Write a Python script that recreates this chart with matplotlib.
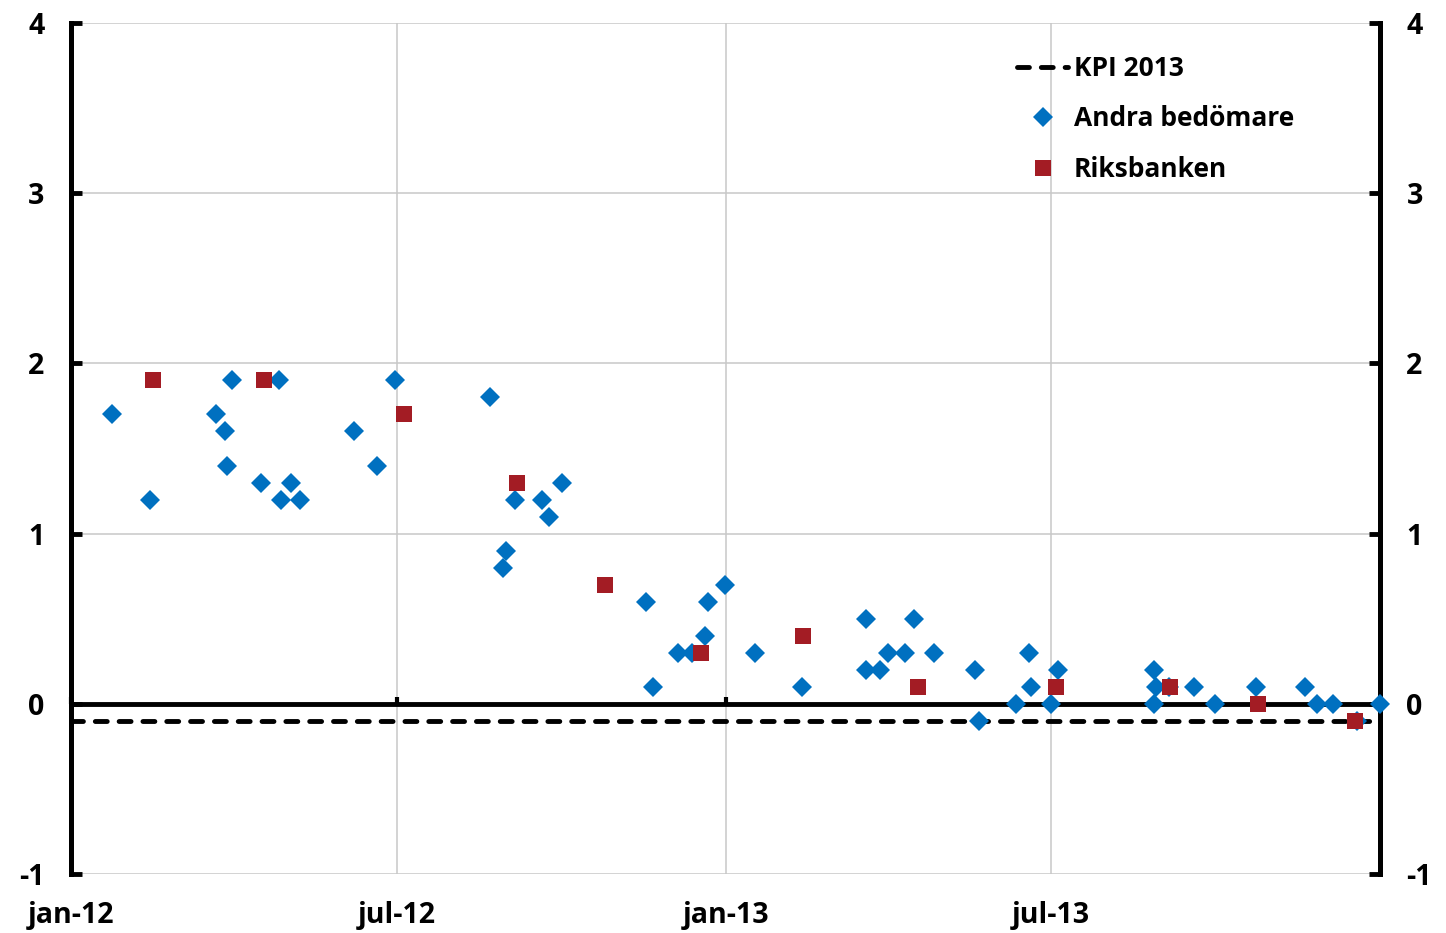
import numpy as np
import pandas as pd
import matplotlib
matplotlib.use("Agg")
from matplotlib import pyplot as plt

plt.rcParams['font.family'] = ['Open Sans', 'DejaVu Sans']
plt.rcParams['font.weight'] = 'bold'

# Andra bedömare
andra_dates = ["2012-01-24", "2012-02-14", "2012-03-22", "2012-03-27", "2012-03-28",
               "2012-03-31", "2012-04-16", "2012-04-26", "2012-04-27", "2012-05-03",
               "2012-05-08", "2012-06-07", "2012-06-20", "2012-06-30", "2012-08-22",
               "2012-08-29", "2012-08-31", "2012-09-05", "2012-09-20", "2012-09-24",
               "2012-10-01", "2012-11-17", "2012-11-21", "2012-12-05", "2012-12-13",
               "2012-12-20", "2012-12-22", "2012-12-31", "2013-01-17", "2013-02-12",
               "2013-03-20", "2013-03-20", "2013-03-28", "2013-04-01", "2013-04-11",
               "2013-04-16", "2013-04-27", "2013-05-20", "2013-05-22", "2013-06-12",
               "2013-06-19", "2013-06-20", "2013-07-01", "2013-07-05", "2013-08-28",
               "2013-08-28", "2013-08-29", "2013-09-05", "2013-09-19", "2013-10-01",
               "2013-10-24", "2013-11-20", "2013-11-27", "2013-12-06", "2013-12-19",
               "2014-01-01"]
andra_values = [1.7, 1.2, 1.7, 1.6, 1.4,
                1.9, 1.3, 1.9, 1.2, 1.3,
                1.2, 1.6, 1.4, 1.9, 1.8,
                0.8, 0.9, 1.2, 1.2, 1.1,
                1.3, 0.6, 0.1, 0.3, 0.3,
                0.4, 0.6, 0.7, 0.3, 0.1,
                0.5, 0.2, 0.2, 0.3, 0.3,
                0.5, 0.3, 0.2, -0.1, 0.0,
                0.3, 0.1, 0.0, 0.2, 0.2,
                0.0, 0.1, 0.1, 0.1, 0.0,
                0.1, 0.1, 0.0, 0.0, -0.1,
                0.0]

# Riksbanken
riks_dates = ["2012-02-16", "2012-04-18", "2012-07-05", "2012-09-06", "2012-10-25",
              "2012-12-18", "2013-02-13", "2013-04-18", "2013-07-04", "2013-09-06",
              "2013-10-25", "2013-12-18"]
riks_values = [1.9, 1.9, 1.7, 1.3, 0.7,
               0.3, 0.4, 0.1, 0.1, 0.1,
               0.0, -0.1]

kpi_2013 = -0.1

xtick_dates = ["2012-01-01", "2012-07-01", "2013-01-01", "2013-07-01"]
xtick_labels = ["jan-12", "jul-12", "jan-13", "jul-13"]
yticks = [-1, 0, 1, 2, 3, 4]

blue = '#0070c0'
red = '#a31c24'

fig = plt.figure(figsize=(14.46, 9.33), dpi=100)
ax = fig.add_axes([71/1446, 1-874/933, (1380-71)/1446, (874-23)/933])

ax.grid(True, color='#c8c8c8', linewidth=1.1)
ax.set_axisbelow(True)

ax.axhline(kpi_2013, color='black', linewidth=3.5, dashes=(2.45, 2.45),
           dash_capstyle='round', label='KPI 2013', zorder=3)

ax.plot(pd.to_datetime(andra_dates), andra_values, linestyle='none', marker='D',
        markersize=9.8, color=blue, markeredgewidth=0, label='Andra bedömare',
        clip_on=False, zorder=4)
ax.plot(pd.to_datetime(riks_dates), riks_values, linestyle='none', marker='s',
        markersize=11, color=red, markeredgewidth=0, label='Riksbanken',
        clip_on=False, zorder=5)

ax.set_xlim(pd.Timestamp("2012-01-01"), pd.Timestamp("2014-01-01"))
ax.set_ylim(-1, 4)

ax.set_xticks(pd.to_datetime(xtick_dates))
ax.set_xticklabels(xtick_labels)
ax.set_yticks(yticks)
ax.set_yticklabels([str(v) for v in yticks])

ax.spines['top'].set_visible(False)
ax.spines['bottom'].set_position(('data', 0))
ax.spines['bottom'].set_linewidth(3.5)
ax.spines['bottom'].set_zorder(2.5)
ax.spines['left'].set_linewidth(3.6)
ax.spines['right'].set_linewidth(3.6)

ax.tick_params(axis='x', direction='in', length=5, width=3, pad=142, labelsize=20.5)
ax.tick_params(axis='y', direction='in', length=8, width=3.5, pad=19, labelsize=20.5,
               left=True, right=True, labelleft=True, labelright=True)

leg = ax.legend(loc='upper left', bbox_to_anchor=(0.7227, 0.9625), frameon=False,
                fontsize=19, handlelength=1.95, handletextpad=0.2, labelspacing=0.89,
                borderpad=0, borderaxespad=0)

plt.savefig('out.png', dpi=100)
